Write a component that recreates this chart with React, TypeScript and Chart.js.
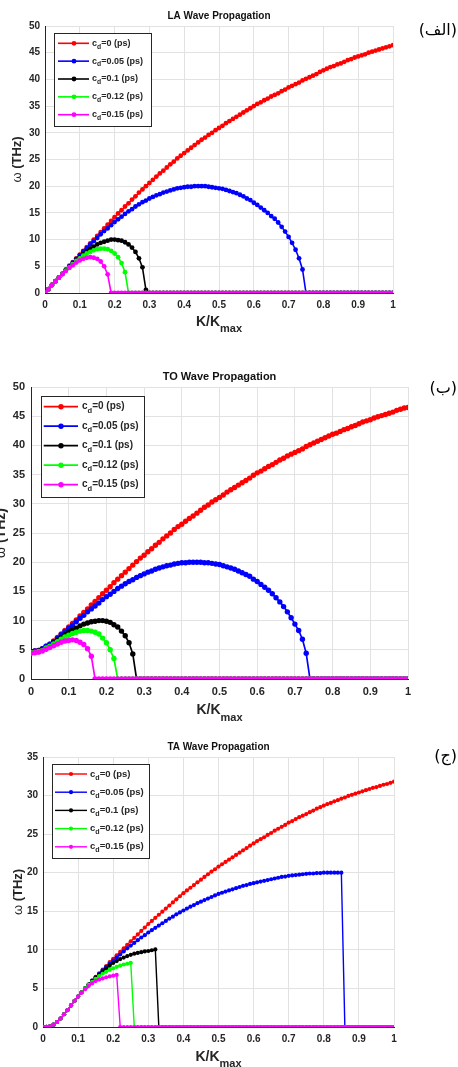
import React, { useEffect, useRef } from "react";
import { Chart, registerables } from "chart.js";

Chart.register(...registerables);

// ---------------- data ----------------
const K = [
  0, 0.01, 0.02, 0.03, 0.04, 0.05, 0.06, 0.07, 0.08, 0.09, 0.1,
  0.11, 0.12, 0.13, 0.14, 0.15, 0.16, 0.17, 0.18, 0.19, 0.2,
  0.21, 0.22, 0.23, 0.24, 0.25, 0.26, 0.27, 0.28, 0.29, 0.3,
  0.31, 0.32, 0.33, 0.34, 0.35, 0.36, 0.37, 0.38, 0.39, 0.4,
  0.41, 0.42, 0.43, 0.44, 0.45, 0.46, 0.47, 0.48, 0.49, 0.5,
  0.51, 0.52, 0.53, 0.54, 0.55, 0.56, 0.57, 0.58, 0.59, 0.6,
  0.61, 0.62, 0.63, 0.64, 0.65, 0.66, 0.67, 0.68, 0.69, 0.7,
  0.71, 0.72, 0.73, 0.74, 0.75, 0.76, 0.77, 0.78, 0.79, 0.8,
  0.81, 0.82, 0.83, 0.84, 0.85, 0.86, 0.87, 0.88, 0.89, 0.9,
  0.91, 0.92, 0.93, 0.94, 0.95, 0.96, 0.97, 0.98, 0.99, 1,
];

const CD_LABELS = ["0", "0.05", "0.1", "0.12", "0.15"];
const SERIES_COLORS = ["#ff0000", "#0000ff", "#000000", "#00ff00", "#ff00ff"];

// LA
const LA_CD0 = [0,
  0.7, 1.5, 2.2, 2.9, 3.6, 4.4, 5.1, 5.8, 6.5, 7.2,
  7.9, 8.6, 9.3, 10.0, 10.7, 11.4, 12.1, 12.8, 13.5, 14.2,
  14.9, 15.5, 16.2, 16.8, 17.5, 18.1, 18.8, 19.4, 20.0, 20.6,
  21.2, 21.8, 22.4, 22.9, 23.5, 24.1, 24.6, 25.2, 25.7, 26.2,
  26.7, 27.2, 27.7, 28.2, 28.7, 29.1, 29.6, 30.0, 30.5, 30.9,
  31.3, 31.8, 32.2, 32.6, 33.0, 33.4, 33.8, 34.2, 34.6, 35.0,
  35.4, 35.7, 36.1, 36.4, 36.8, 37.1, 37.4, 37.8, 38.1, 38.5,
  38.8, 39.1, 39.4, 39.8, 40.1, 40.4, 40.7, 41.0, 41.4, 41.7,
  42.0, 42.3, 42.5, 42.8, 43.0, 43.3, 43.6, 43.8, 44.1, 44.3,
  44.5, 44.7, 45.0, 45.2, 45.4, 45.6, 45.8, 46.0, 46.2, 46.4];
const LA_CD005 = [0,
  0.7, 1.5, 2.2, 2.9, 3.6, 4.3, 5.0, 5.7, 6.4, 7.1,
  7.8, 8.4, 9.1, 9.7, 10.3, 11.0, 11.6, 12.1, 12.7, 13.3,
  13.8, 14.3, 14.8, 15.3, 15.7, 16.2, 16.6, 17.0, 17.3, 17.7,
  18.0, 18.3, 18.5, 18.8, 19.0, 19.2, 19.4, 19.6, 19.7, 19.8,
  19.9, 19.9, 20.0, 20.0, 20.0, 20.0, 19.9, 19.8, 19.7, 19.6,
  19.5, 19.3, 19.1, 18.9, 18.7, 18.4, 18.1, 17.7, 17.4, 16.9,
  16.5, 16.0, 15.5, 15.0, 14.4, 13.9, 13.2, 12.4, 11.5, 10.5,
  9.4, 8.1, 6.5, 4.4, 0, 0, 0, 0, 0, 0,
  0, 0, 0, 0, 0, 0, 0, 0, 0, 0,
  0, 0, 0, 0, 0, 0, 0, 0, 0, 0];
const LA_CD01 = [0,
  0.7, 1.5, 2.2, 2.9, 3.6, 4.3, 4.9, 5.5, 6.2, 6.7,
  7.3, 7.8, 8.3, 8.7, 9.1, 9.4, 9.6, 9.8, 10.0, 10.0,
  9.9, 9.8, 9.5, 9.1, 8.5, 7.7, 6.5, 4.8, 0.6, 0,
  0, 0, 0, 0, 0, 0, 0, 0, 0, 0,
  0, 0, 0, 0, 0, 0, 0, 0, 0, 0,
  0, 0, 0, 0, 0, 0, 0, 0, 0, 0,
  0, 0, 0, 0, 0, 0, 0, 0, 0, 0,
  0, 0, 0, 0, 0, 0, 0, 0, 0, 0,
  0, 0, 0, 0, 0, 0, 0, 0, 0, 0,
  0, 0, 0, 0, 0, 0, 0, 0, 0, 0];
const LA_CD012 = [0,
  0.7, 1.5, 2.2, 2.9, 3.6, 4.2, 4.8, 5.4, 6.0, 6.5,
  7.0, 7.4, 7.7, 8.0, 8.2, 8.3, 8.3, 8.2, 7.9, 7.4,
  6.7, 5.6, 3.9, 0, 0, 0, 0, 0, 0, 0,
  0, 0, 0, 0, 0, 0, 0, 0, 0, 0,
  0, 0, 0, 0, 0, 0, 0, 0, 0, 0,
  0, 0, 0, 0, 0, 0, 0, 0, 0, 0,
  0, 0, 0, 0, 0, 0, 0, 0, 0, 0,
  0, 0, 0, 0, 0, 0, 0, 0, 0, 0,
  0, 0, 0, 0, 0, 0, 0, 0, 0, 0,
  0, 0, 0, 0, 0, 0, 0, 0, 0, 0];
const LA_CD015 = [0,
  0.7, 1.5, 2.2, 2.9, 3.5, 4.1, 4.7, 5.2, 5.7, 6.1,
  6.4, 6.6, 6.7, 6.6, 6.4, 5.9, 5.0, 3.5, 0, 0,
  0, 0, 0, 0, 0, 0, 0, 0, 0, 0,
  0, 0, 0, 0, 0, 0, 0, 0, 0, 0,
  0, 0, 0, 0, 0, 0, 0, 0, 0, 0,
  0, 0, 0, 0, 0, 0, 0, 0, 0, 0,
  0, 0, 0, 0, 0, 0, 0, 0, 0, 0,
  0, 0, 0, 0, 0, 0, 0, 0, 0, 0,
  0, 0, 0, 0, 0, 0, 0, 0, 0, 0,
  0, 0, 0, 0, 0, 0, 0, 0, 0, 0];

// TO
const TO_CD0 = [4.7,
  4.8, 4.9, 5.2, 5.6, 6.0, 6.5, 7.1, 7.7, 8.3, 8.9,
  9.5, 10.1, 10.8, 11.4, 12.0, 12.7, 13.3, 13.9, 14.6, 15.2,
  15.8, 16.5, 17.1, 17.7, 18.3, 18.9, 19.5, 20.1, 20.7, 21.2,
  21.8, 22.3, 22.9, 23.4, 24.0, 24.5, 25.0, 25.6, 26.1, 26.5,
  27.0, 27.5, 27.9, 28.4, 28.9, 29.4, 29.8, 30.3, 30.7, 31.1,
  31.5, 32.0, 32.4, 32.8, 33.2, 33.6, 34.0, 34.4, 34.9, 35.3,
  35.6, 36.0, 36.4, 36.7, 37.1, 37.5, 37.8, 38.2, 38.5, 38.8,
  39.1, 39.4, 39.8, 40.1, 40.4, 40.7, 41.0, 41.3, 41.6, 41.9,
  42.1, 42.4, 42.7, 42.9, 43.2, 43.4, 43.7, 44.0, 44.2, 44.4,
  44.7, 44.9, 45.1, 45.3, 45.5, 45.7, 46.0, 46.2, 46.4, 46.5];
const TO_CD005 = [4.7,
  4.8, 4.9, 5.2, 5.6, 5.9, 6.4, 7.0, 7.6, 8.1, 8.7,
  9.2, 9.8, 10.4, 10.9, 11.5, 12.0, 12.5, 13.0, 13.6, 14.1,
  14.5, 15.0, 15.5, 15.9, 16.3, 16.7, 17.0, 17.4, 17.7, 18.0,
  18.3, 18.5, 18.8, 19.0, 19.2, 19.4, 19.5, 19.7, 19.8, 19.9,
  19.9, 20.0, 20.0, 20.0, 20.0, 19.9, 19.9, 19.8, 19.7, 19.6,
  19.4, 19.2, 19.0, 18.8, 18.5, 18.2, 17.9, 17.6, 17.1, 16.7,
  16.2, 15.7, 15.2, 14.6, 13.9, 13.2, 12.4, 11.5, 10.5, 9.4,
  8.3, 6.8, 4.4, 0, 0, 0, 0, 0, 0, 0,
  0, 0, 0, 0, 0, 0, 0, 0, 0, 0,
  0, 0, 0, 0, 0, 0, 0, 0, 0, 0];
const TO_CD01 = [4.6,
  4.7, 4.8, 5.0, 5.4, 5.7, 6.2, 6.6, 7.1, 7.6, 8.0,
  8.4, 8.7, 9.1, 9.4, 9.6, 9.8, 9.9, 10.0, 10.0, 9.9,
  9.7, 9.3, 8.9, 8.2, 7.4, 6.2, 4.3, 0, 0, 0,
  0, 0, 0, 0, 0, 0, 0, 0, 0, 0,
  0, 0, 0, 0, 0, 0, 0, 0, 0, 0,
  0, 0, 0, 0, 0, 0, 0, 0, 0, 0,
  0, 0, 0, 0, 0, 0, 0, 0, 0, 0,
  0, 0, 0, 0, 0, 0, 0, 0, 0, 0,
  0, 0, 0, 0, 0, 0, 0, 0, 0, 0,
  0, 0, 0, 0, 0, 0, 0, 0, 0, 0];
const TO_CD012 = [4.5,
  4.6, 4.7, 4.9, 5.3, 5.6, 6.0, 6.4, 6.8, 7.2, 7.5,
  7.8, 8.0, 8.2, 8.3, 8.3, 8.2, 8.0, 7.7, 7.0, 6.2,
  5.0, 3.5, 0, 0, 0, 0, 0, 0, 0, 0,
  0, 0, 0, 0, 0, 0, 0, 0, 0, 0,
  0, 0, 0, 0, 0, 0, 0, 0, 0, 0,
  0, 0, 0, 0, 0, 0, 0, 0, 0, 0,
  0, 0, 0, 0, 0, 0, 0, 0, 0, 0,
  0, 0, 0, 0, 0, 0, 0, 0, 0, 0,
  0, 0, 0, 0, 0, 0, 0, 0, 0, 0,
  0, 0, 0, 0, 0, 0, 0, 0, 0, 0];
const TO_CD015 = [4.4,
  4.5, 4.6, 4.8, 5.1, 5.4, 5.7, 6.0, 6.3, 6.5, 6.6,
  6.7, 6.6, 6.3, 5.9, 5.2, 3.9, 0, 0, 0, 0,
  0, 0, 0, 0, 0, 0, 0, 0, 0, 0,
  0, 0, 0, 0, 0, 0, 0, 0, 0, 0,
  0, 0, 0, 0, 0, 0, 0, 0, 0, 0,
  0, 0, 0, 0, 0, 0, 0, 0, 0, 0,
  0, 0, 0, 0, 0, 0, 0, 0, 0, 0,
  0, 0, 0, 0, 0, 0, 0, 0, 0, 0,
  0, 0, 0, 0, 0, 0, 0, 0, 0, 0,
  0, 0, 0, 0, 0, 0, 0, 0, 0, 0];

// TA
const TA_CD0 = [0,
  0.02, 0.1, 0.3, 0.65, 1.1, 1.65, 2.2, 2.8, 3.4, 3.95,
  4.5, 5.0, 5.5, 6.0, 6.5, 6.95, 7.45, 7.9, 8.4, 8.85,
  9.3, 9.75, 10.2, 10.65, 11.1, 11.55, 12.0, 12.45, 12.9, 13.35,
  13.75, 14.15, 14.55, 14.95, 15.35, 15.75, 16.15, 16.55, 16.95, 17.35,
  17.7, 18.05, 18.4, 18.75, 19.1, 19.45, 19.8, 20.15, 20.45, 20.8,
  21.1, 21.4, 21.7, 22.0, 22.3, 22.6, 22.9, 23.2, 23.5, 23.8,
  24.1, 24.35, 24.6, 24.9, 25.15, 25.45, 25.7, 25.95, 26.2, 26.5,
  26.7, 26.95, 27.2, 27.4, 27.6, 27.85, 28.05, 28.3, 28.5, 28.7,
  28.9, 29.05, 29.25, 29.4, 29.6, 29.75, 29.95, 30.1, 30.25, 30.4,
  30.55, 30.7, 30.85, 31.0, 31.1, 31.25, 31.4, 31.5, 31.65, 31.8];
const TA_CD005 = [0,
  0.02, 0.1, 0.3, 0.65, 1.1, 1.65, 2.2, 2.8, 3.4, 3.95,
  4.5, 5.0, 5.5, 6.0, 6.45, 6.9, 7.35, 7.8, 8.2, 8.6,
  9.0, 9.4, 9.8, 10.2, 10.55, 10.9, 11.25, 11.6, 11.9, 12.25,
  12.55, 12.85, 13.15, 13.45, 13.75, 14.05, 14.3, 14.6, 14.85, 15.1,
  15.35, 15.6, 15.8, 16.05, 16.25, 16.45, 16.65, 16.85, 17.05, 17.25,
  17.4, 17.55, 17.7, 17.85, 18.0, 18.15, 18.3, 18.4, 18.55, 18.65,
  18.75, 18.85, 18.95, 19.05, 19.15, 19.25, 19.35, 19.45, 19.5, 19.6,
  19.65, 19.7, 19.75, 19.8, 19.85, 19.9, 19.9, 19.95, 19.95, 20.0,
  20.0, 20.0, 20.0, 20.0, 20.0, 0, 0, 0, 0, 0,
  0, 0, 0, 0, 0, 0, 0, 0, 0, 0];
const TA_CD01 = [0,
  0.02, 0.1, 0.3, 0.65, 1.1, 1.65, 2.2, 2.8, 3.4, 3.95,
  4.5, 5.0, 5.5, 5.95, 6.4, 6.8, 7.2, 7.6, 7.95, 8.3,
  8.55, 8.8, 9.0, 9.2, 9.35, 9.5, 9.6, 9.7, 9.8, 9.85,
  9.95, 10.05, 0, 0, 0, 0, 0, 0, 0, 0,
  0, 0, 0, 0, 0, 0, 0, 0, 0, 0,
  0, 0, 0, 0, 0, 0, 0, 0, 0, 0,
  0, 0, 0, 0, 0, 0, 0, 0, 0, 0,
  0, 0, 0, 0, 0, 0, 0, 0, 0, 0,
  0, 0, 0, 0, 0, 0, 0, 0, 0, 0,
  0, 0, 0, 0, 0, 0, 0, 0, 0, 0];
const TA_CD012 = [0,
  0.02, 0.1, 0.3, 0.65, 1.1, 1.65, 2.2, 2.8, 3.4, 3.95,
  4.5, 5.0, 5.45, 5.85, 6.25, 6.6, 6.9, 7.15, 7.4, 7.6,
  7.8, 7.95, 8.1, 8.2, 8.3, 0, 0, 0, 0, 0,
  0, 0, 0, 0, 0, 0, 0, 0, 0, 0,
  0, 0, 0, 0, 0, 0, 0, 0, 0, 0,
  0, 0, 0, 0, 0, 0, 0, 0, 0, 0,
  0, 0, 0, 0, 0, 0, 0, 0, 0, 0,
  0, 0, 0, 0, 0, 0, 0, 0, 0, 0,
  0, 0, 0, 0, 0, 0, 0, 0, 0, 0,
  0, 0, 0, 0, 0, 0, 0, 0, 0, 0];
const TA_CD015 = [0,
  0.02, 0.1, 0.3, 0.65, 1.1, 1.65, 2.2, 2.8, 3.4, 3.95,
  4.45, 4.9, 5.3, 5.65, 5.95, 6.15, 6.3, 6.45, 6.55, 6.65,
  6.75, 0, 0, 0, 0, 0, 0, 0, 0, 0,
  0, 0, 0, 0, 0, 0, 0, 0, 0, 0,
  0, 0, 0, 0, 0, 0, 0, 0, 0, 0,
  0, 0, 0, 0, 0, 0, 0, 0, 0, 0,
  0, 0, 0, 0, 0, 0, 0, 0, 0, 0,
  0, 0, 0, 0, 0, 0, 0, 0, 0, 0,
  0, 0, 0, 0, 0, 0, 0, 0, 0, 0,
  0, 0, 0, 0, 0, 0, 0, 0, 0, 0];

// ---------------- layout / styles ----------------
const FONT = '"Liberation Sans", Arial, sans-serif';
const INK = "#262626";

type PanelCfg = {
  title: string;
  tag: string;
  tagTop: number;
  series: number[][];
  yMax: number;
  top: number;
  height: number;
  padTop: number;
  padRight: number;
  padBottom: number;
  yWidth: number;
  xHeight: number;
  tickSize: number;
  yTickPad: number;
  xTickPad: number;
  titleSize: number;
  titleY: number;
  xLabelY: number;
  yLabelX: number;
  yLabelSize: number;
  lineWidth: number;
  pointRadius: number;
  legend: { dx: number; dy: number; w: number; h: number; first: number; gap: number; l1: number; l2: number; mk: number; tx: number; fs: number };
};

const PANELS: PanelCfg[] = [
  {
    title: "LA Wave Propagation", tag: "(الف)", tagTop: 20,
    series: [LA_CD0, LA_CD005, LA_CD01, LA_CD012, LA_CD015], yMax: 50,
    top: 0, height: 345, padTop: 26, padRight: 65, padBottom: 22, yWidth: 45, xHeight: 30,
    tickSize: 10, yTickPad: 5, xTickPad: 6, titleSize: 10, titleY: 16, xLabelY: 322, yLabelX: 17, yLabelSize: 13,
    lineWidth: 1.6, pointRadius: 2.4,
    legend: { dx: 9, dy: 7, w: 97, h: 93, first: 10.3, gap: 17.85, l1: 4, l2: 35, mk: 20, tx: 38, fs: 9 },
  },
  {
    title: "TO Wave Propagation", tag: "(ب)", tagTop: 378,
    series: [TO_CD0, TO_CD005, TO_CD01, TO_CD012, TO_CD015], yMax: 50,
    top: 355, height: 375, padTop: 32, padRight: 50, padBottom: 21, yWidth: 31, xHeight: 30,
    tickSize: 11, yTickPad: 6, xTickPad: 6, titleSize: 11, titleY: 21.7, xLabelY: 355.5, yLabelX: 1, yLabelSize: 14,
    lineWidth: 1.7, pointRadius: 2.7,
    legend: { dx: 10, dy: 9, w: 103, h: 101, first: 10.7, gap: 19.5, l1: 2.7, l2: 37, mk: 20, tx: 41, fs: 10 },
  },
  {
    title: "TA Wave Propagation", tag: "(ج)", tagTop: 746,
    series: [TA_CD0, TA_CD005, TA_CD01, TA_CD012, TA_CD015], yMax: 35,
    top: 722, height: 345, padTop: 35, padRight: 64, padBottom: 10, yWidth: 43, xHeight: 30,
    tickSize: 10, yTickPad: 5, xTickPad: 6, titleSize: 10, titleY: 25.3, xLabelY: 334.7, yLabelX: 18, yLabelSize: 13,
    lineWidth: 1.4, pointRadius: 2.1,
    legend: { dx: 9, dy: 7, w: 97, h: 94, first: 10, gap: 18.2, l1: 3, l2: 35, mk: 19, tx: 38, fs: 9.5 },
  },
];

function fmtTick(v: any) {
  const n = Math.round(Number(v) * 100) / 100;
  return String(n);
}

function makeDecor(cfg: PanelCfg) {
  return {
    id: "decor",
    afterDraw(chart: any) {
      const ctx: CanvasRenderingContext2D = chart.ctx;
      const a = chart.chartArea;
      ctx.save();
      // title
      ctx.fillStyle = "#111";
      ctx.font = `bold ${cfg.titleSize}px ${FONT}`;
      ctx.textAlign = "center";
      ctx.textBaseline = "middle";
      ctx.fillText(cfg.title, (a.left + a.right) / 2, cfg.titleY);

      // x label K/K_max
      ctx.fillStyle = INK;
      ctx.font = `bold 14px ${FONT}`;
      const w1 = ctx.measureText("K/K").width;
      ctx.font = `bold 11px ${FONT}`;
      const w2 = ctx.measureText("max").width;
      const sx = (a.left + a.right) / 2 - (w1 + w2) / 2;
      ctx.textAlign = "left";
      ctx.font = `bold 14px ${FONT}`;
      ctx.fillText("K/K", sx, cfg.xLabelY);
      ctx.font = `bold 11px ${FONT}`;
      ctx.fillText("max", sx + w1, cfg.xLabelY + 7);

      // y label
      ctx.save();
      ctx.translate(cfg.yLabelX, (a.top + a.bottom) / 2);
      ctx.rotate(-Math.PI / 2);
      ctx.font = `${cfg.yLabelSize}px ${FONT}`;
      const wo = ctx.measureText("ω ").width;
      ctx.font = `bold ${cfg.yLabelSize}px ${FONT}`;
      const wt = ctx.measureText("(THz)").width;
      const ys = -(wo + wt) / 2;
      ctx.textAlign = "left";
      ctx.font = `${cfg.yLabelSize}px ${FONT}`;
      ctx.fillText("ω ", ys, 0);
      ctx.font = `bold ${cfg.yLabelSize}px ${FONT}`;
      ctx.fillText("(THz)", ys + wo, 0);
      ctx.restore();

      // legend
      const L = cfg.legend;
      const x0 = Math.round(a.left + L.dx);
      const y0 = Math.round(a.top + L.dy);
      ctx.fillStyle = "#ffffff";
      ctx.fillRect(x0, y0, L.w, L.h);
      ctx.strokeStyle = INK;
      ctx.lineWidth = 1;
      ctx.strokeRect(x0 + 0.5, y0 + 0.5, L.w, L.h);
      CD_LABELS.forEach((lab, i) => {
        const y = y0 + L.first + i * L.gap;
        ctx.strokeStyle = SERIES_COLORS[i];
        ctx.lineWidth = cfg.lineWidth;
        ctx.beginPath();
        ctx.moveTo(x0 + L.l1, y);
        ctx.lineTo(x0 + L.l2, y);
        ctx.stroke();
        ctx.fillStyle = SERIES_COLORS[i];
        ctx.beginPath();
        ctx.arc(x0 + L.mk, y, cfg.pointRadius, 0, Math.PI * 2);
        ctx.fill();
        ctx.fillStyle = INK;
        ctx.textAlign = "left";
        ctx.textBaseline = "middle";
        let tx = x0 + L.tx;
        ctx.font = `bold ${L.fs}px ${FONT}`;
        ctx.fillText("c", tx, y);
        tx += ctx.measureText("c").width;
        ctx.font = `bold ${L.fs * 0.75}px ${FONT}`;
        ctx.fillText("d", tx, y + L.fs * 0.38);
        tx += ctx.measureText("d").width;
        ctx.font = `bold ${L.fs}px ${FONT}`;
        ctx.fillText(`=${lab} (ps)`, tx, y);
      });
      ctx.restore();
    },
  };
}

function Panel({ cfg }: { cfg: PanelCfg }) {
  const ref = useRef<HTMLCanvasElement | null>(null);
  useEffect(() => {
    if (!ref.current) return;
    const datasets = cfg.series.map((s, i) => ({
      label: `c_d=${CD_LABELS[i]} (ps)`,
      data: s,
      borderColor: SERIES_COLORS[i],
      backgroundColor: SERIES_COLORS[i],
      pointBackgroundColor: SERIES_COLORS[i],
      pointBorderWidth: 0,
      pointRadius: cfg.pointRadius,
      borderWidth: cfg.lineWidth,
      tension: 0,
      fill: false,
      order: cfg.series.length - 1 - i,
    }));
    const chart = new Chart(ref.current, {
      type: "line",
      data: { labels: K, datasets },
      options: {
        animation: false,
        responsive: false,
        devicePixelRatio: 1,
        events: [],
        layout: { padding: { left: 0, top: cfg.padTop, right: cfg.padRight, bottom: cfg.padBottom } },
        plugins: { legend: { display: false }, tooltip: { enabled: false }, title: { display: false } },
        scales: {
          x: {
            type: "linear",
            min: 0,
            max: 1,
            ticks: { stepSize: 0.1, color: INK, padding: cfg.xTickPad, font: { family: FONT, size: cfg.tickSize, weight: "bold" }, maxRotation: 0, callback: fmtTick },
            grid: { color: "#e2e2e2", drawTicks: false, lineWidth: 1 },
            border: { display: true, color: INK, width: 1 },
            afterFit: (s: any) => { s.height = cfg.xHeight; },
          },
          y: {
            type: "linear",
            min: 0,
            max: cfg.yMax,
            ticks: { stepSize: 5, color: INK, padding: cfg.yTickPad, font: { family: FONT, size: cfg.tickSize, weight: "bold" }, callback: fmtTick },
            grid: { color: "#e2e2e2", drawTicks: false, lineWidth: 1 },
            border: { display: true, color: INK, width: 1 },
            afterFit: (s: any) => { s.width = cfg.yWidth; },
          },
        },
      } as any,
      plugins: [makeDecor(cfg)],
    });
    return () => chart.destroy();
  }, [cfg]);
  return (
    <canvas
      ref={ref}
      width={458}
      height={cfg.height}
      style={{ position: "absolute", left: 0, top: cfg.top, width: 458, height: cfg.height }}
    />
  );
}

export default function App() {
  return (
    <div style={{ position: "absolute", left: 0, top: 0, width: 458, height: 1067, background: "#fff", overflow: "hidden" }}>
      {PANELS.map((p, i) => (
        <Panel key={i} cfg={p} />
      ))}
      {PANELS.map((p, i) => (
        <div
          key={"t" + i}
          dir="rtl"
          style={{
            position: "absolute",
            right: 1,
            top: p.tagTop,
            fontFamily: '"DejaVu Sans", sans-serif',
            fontSize: 16,
            lineHeight: "20px",
            color: "#000",
            whiteSpace: "nowrap",
          }}
        >
          {p.tag}
        </div>
      ))}
    </div>
  );
}
